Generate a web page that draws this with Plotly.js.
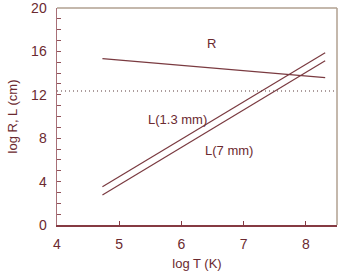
<!DOCTYPE html>
<html><head><meta charset="utf-8">
<script src="https://cdn.plot.ly/plotly-3.0.1.min.js"></script>
<style>html,body{margin:0;padding:0;background:#fff}#c{width:347px;height:278px}</style>
</head><body><div id="c"></div>
<script>
const logT = [4.73, 8.31];
const R = [15.33, 13.58];
const L13 = [3.53, 15.88];
const L7 = [2.76, 15.14];
const refX = [4, 8.5];
const refY = [12.35, 12.35];
const labels = ["R", "L(1.3 mm)", "L(7 mm)"];
const labelX = [6.48, 5.94, 6.76];
const labelY = [16.7, 9.77, 6.85];

const lineCol = '#7a3a40';
const textCol = '#6b2a30';
const font = {family: 'Liberation Sans, Arial, sans-serif', size: 13, color: textCol};
const tfont = {family: 'Liberation Sans, Arial, sans-serif', size: 14, color: textCol};

const traces = [
  {x: logT, y: R, mode: 'lines', line: {color: lineCol, width: 1.2}},
  {x: logT, y: L13, mode: 'lines', line: {color: lineCol, width: 1.2}},
  {x: logT, y: L7, mode: 'lines', line: {color: lineCol, width: 1.2}},
  {x: refX, y: refY, mode: 'lines', line: {color: '#5a3a3a', width: 1.2, dash: '1px,3px'}}
];
const annotations = labels.map((t, i) => ({x: labelX[i], y: labelY[i], text: t, showarrow: false, font: font, xanchor: 'center', yanchor: 'middle'}));

const layout = {
  width: 347, height: 278,
  margin: {l: 57, r: 10, t: 8, b: 53},
  showlegend: false,
  paper_bgcolor: '#fff', plot_bgcolor: '#fff',
  font: font,
  xaxis: {range: [4, 8.5], dtick: 1, tick0: 4, showgrid: false, zeroline: false,
    showline: true, linecolor: '#853a42', linewidth: 1.5,
    ticks: 'inside', ticklen: 4, tickcolor: '#853a42', tickfont: tfont, ticklabelstandoff: 6,
    ticklabeloverflow: 'allow',
    title: {text: 'log T (K)', font: font, standoff: 7}},
  yaxis: {range: [0, 20], dtick: 4, tick0: 0, showgrid: false, zeroline: false,
    showline: true, linecolor: '#a87078', linewidth: 1.5,
    ticks: 'inside', ticklen: 4, tickcolor: '#905058', tickfont: tfont, ticklabelstandoff: 6,
    ticklabeloverflow: 'allow',
    minor: {dtick: 1, ticks: 'inside', ticklen: 4, tickcolor: '#905058', showgrid: false},
    title: {text: 'log R, L (cm)', font: font, standoff: 10}},
  shapes: [
    {type: 'line', xref: 'paper', yref: 'paper', x0: 0, x1: 1, y0: 1, y1: 1, line: {color: '#b0a090', width: 1.5}},
    {type: 'line', xref: 'paper', yref: 'paper', x0: 1, x1: 1, y0: 0, y1: 1, line: {color: '#b0a090', width: 1.5}}
  ],
  annotations: annotations
};
Plotly.newPlot('c', traces, layout, {displayModeBar: false, staticPlot: true});
</script></body></html>
